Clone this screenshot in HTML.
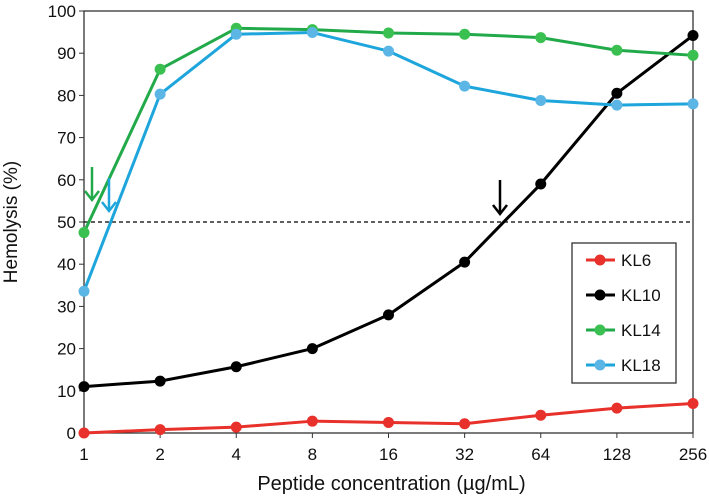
<!DOCTYPE html>
<html><head><meta charset="utf-8"><style>
body{margin:0;background:#fff}
svg{display:block;font-family:"Liberation Sans",Arial,sans-serif}
</style></head><body>
<svg id="c" width="709" height="501" viewBox="0 0 709 501"></svg>
<script>
const categories=["1","2","4","8","16","32","64","128","256"];
const yTicks=[0,10,20,30,40,50,60,70,80,90,100];
const kl6=[0,0.8,1.4,2.8,2.5,2.2,4.2,5.9,7.0];
const kl10=[11,12.3,15.7,20,28,40.5,59,80.5,94.2];
const kl14=[47.5,86.2,95.9,95.6,94.8,94.5,93.7,90.7,89.5];
const kl18=[33.6,80.3,94.5,94.9,90.5,82.2,78.8,77.7,78.0];
const seriesNames=["KL6","KL10","KL14","KL18"];
const seriesColors=["#e8312a","#000000","#22aa4a","#1ea6dc"];
const markerColors=["#e8312a","#000000","#3ac050","#5bb6e6"];
const seriesData=[kl6,kl10,kl14,kl18];
const threshold=50;

const svg=document.getElementById('c');
const NS="http://www.w3.org/2000/svg";
const L=84,R=693,T=11,B=433;
const xs=i=>L+(R-L)*i/(categories.length-1);
const ys=v=>B-(B-T)*v/100;
function mk(tag,attrs,parent){const e=document.createElementNS(NS,tag);for(const k in attrs)e.setAttribute(k,attrs[k]);(parent||svg).appendChild(e);return e;}

const frame=mk('rect',{x:L,y:T,width:R-L,height:B-T,fill:'none',stroke:'#333',"stroke-width":1.3});



yTicks.forEach(v=>{
  const t=mk('line',{x1:L-5,x2:L,y1:ys(v),y2:ys(v),stroke:'#333'});
  
  
  const tx=mk('text',{x:L-8,y:ys(v)+6,"text-anchor":"end","font-size":17,fill:'#111'});
  tx.textContent=v;
  
  
});
categories.forEach((c,i)=>{
  const t=mk('line',{x1:xs(i),x2:xs(i),y1:B,y2:B+5,stroke:'#333'});
  
  
  const tx=mk('text',{x:xs(i),y:B+27,"text-anchor":"middle","font-size":17,fill:'#111'});
  tx.textContent=c;
  
  
});
const xt=mk('text',{x:(L+R)/2+3,y:490,"text-anchor":"middle","font-size":20,fill:'#111'});
xt.textContent="Peptide concentration (µg/mL)";


const yt=mk('text',{x:0,y:0,"text-anchor":"middle","font-size":19,fill:'#111',transform:`translate(17,${(T+B)/2}) rotate(-90)`});
yt.textContent="Hemolysis (%)";



const th=mk('line',{x1:L,x2:R,y1:ys(threshold),y2:ys(threshold),stroke:'#000',"stroke-width":1.3,"stroke-dasharray":"4,3"});



seriesData.forEach((d,s)=>{
  const g=mk('g',{});
  
  
  const pl=mk('polyline',{points:d.map((v,i)=>xs(i)+','+ys(v)).join(' '),fill:'none',stroke:seriesColors[s],"stroke-width":3,"stroke-linejoin":"round"},g);
  
  
  d.forEach((v,i)=>{
    const p=mk('circle',{cx:xs(i),cy:ys(v),r:5.5,fill:markerColors[s]},g);
    
    
  });
});

function arrow(x,y1,y2,col,name){
  const g=mk('g',{stroke:col,"stroke-width":2.5,fill:'none'});
  
  
  mk('line',{x1:x,x2:x,y1:y1,y2:y2},g);
  mk('polyline',{points:`${x-7},${y2-9} ${x},${y2} ${x+7},${y2-9}`},g);
}
arrow(92,167,200,'#22aa4a','arrow-kl14');
arrow(109,178,211,'#1ea6dc','arrow-kl18');
arrow(500,180,214,'#000','arrow-kl10');

const lg=mk('g',{});


mk('rect',{x:572,y:243,width:104,height:140,fill:'#fff',stroke:'#333',"stroke-width":1.3},lg);
seriesNames.forEach((n,s)=>{
  const e=mk('g',{},lg);
  
  
  const y=260+s*35;
  mk('line',{x1:586,x2:615,y1:y,y2:y,stroke:seriesColors[s],"stroke-width":3},e);
  mk('circle',{cx:600,cy:y,r:5.5,fill:markerColors[s]},e);
  const t=mk('text',{x:621,y:y+6,"font-size":17,fill:'#111'},e);
  t.textContent=n;
});
</script>
</body></html>
